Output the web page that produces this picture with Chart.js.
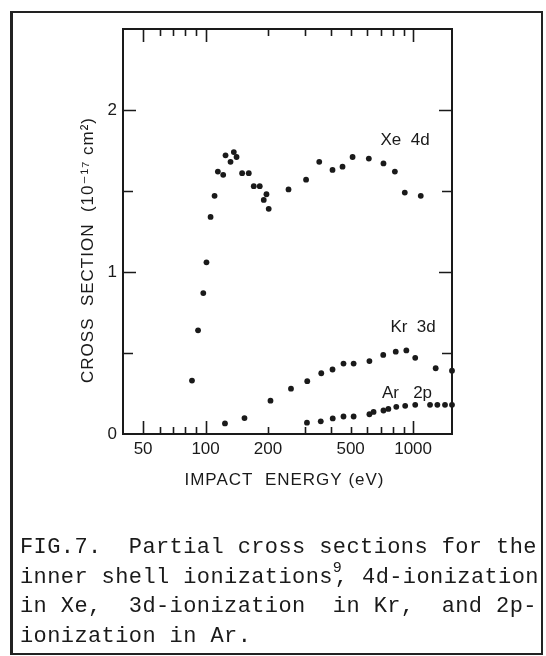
<!DOCTYPE html>
<html>
<head>
<meta charset="utf-8">
<script src="https://cdn.jsdelivr.net/npm/chart.js@4.4.0/dist/chart.umd.min.js"></script>
<style>
  html, body { margin: 0; padding: 0; background: #fff; }
  #wrap { position: relative; width: 546px; height: 656px; overflow: hidden; }
  #frame { position: absolute; left: 10px; top: 11px; width: 528px; height: 640px;
           border: 2px solid #222; border-left-width: 3px; }
  #chart { position: absolute; left: 0; top: 0; }
  #caption { position: absolute; left: 20px; top: 533px; color: #1a1a1a;
             font: 22px "Liberation Mono", "DejaVu Sans Mono", monospace;
             line-height: 29.5px; letter-spacing: 0.4px; white-space: pre; }
  .sup { display: inline-block; width: 2px; font-size: 15px; line-height: 0;
         position: relative; top: -11px; }
</style>
</head>
<body>
<div id="wrap">
  <div id="frame"></div>
  <canvas id="chart" width="546" height="656"></canvas>
  <div id="caption">FIG.7.  Partial cross sections for the
inner shell ionizations<span class="sup">9</span>, 4d-ionization
in Xe,  3d-ionization  in Kr,  and 2p-
ionization in Ar.</div>
</div>
<script>
// impact energy (eV) and cross section (10^-17 cm^2)
const xeEnergy = [86, 92, 97.5, 101, 105.7, 110.5, 114.6, 121.6, 124.8, 131.9, 136.8, 141,
                  150, 161.5, 170.7, 182.4, 190.7, 196.5, 201.5, 251, 305, 353, 409, 457,
                  511, 612, 720, 817, 912, 1089];
const xeCross = [0.33, 0.64, 0.87, 1.06, 1.34, 1.47, 1.62, 1.60, 1.72, 1.68, 1.74, 1.71,
                 1.61, 1.61, 1.53, 1.53, 1.445, 1.48, 1.39, 1.51, 1.57, 1.68, 1.63, 1.65,
                 1.71, 1.70, 1.67, 1.62, 1.49, 1.47];

const krEnergy = [124, 154, 205.5, 258, 309, 361, 409, 462, 517, 616, 718, 825, 928, 1024, 1285, 1540];
const krCross = [0.065, 0.098, 0.206, 0.28, 0.326, 0.375, 0.398, 0.435, 0.435, 0.45, 0.488,
                 0.508, 0.516, 0.47, 0.406, 0.391];

const arEnergy = [308, 359, 410, 462, 517, 616, 645, 720, 760, 830, 916, 1024, 1207, 1309, 1425, 1540];
const arCross = [0.07, 0.078, 0.096, 0.108, 0.108, 0.122, 0.136, 0.145, 0.155, 0.168, 0.174,
                 0.18, 0.18, 0.18, 0.18, 0.18];

const seriesNames = ['Xe  4d', 'Kr  3d', 'Ar   2p'];

const xTickLabels = [50, 100, 200, 500, 1000];
const xMajorTicks = [50, 100, 1000];
const xMinorTicks = [60, 70, 80, 90, 200, 300, 400, 500, 600, 700, 800, 900];
const yTickLabels = [0, 1, 2];
const yMajorTicks = [1, 2];
const yMinorTicks = [0.5, 1.5];

const ink = '#1a1a1a';
const sansFont = '"Liberation Sans", "DejaVu Sans", sans-serif';

function toPoints(xs, ys) {
    return xs.map(function (x, i) { return { x: x, y: ys[i] }; });
}

// frame, inward ticks on all four sides, axis titles and series names
const figureDecor = {
    id: 'figureDecor',
    afterDraw: function (chart, args, opts) {
        const ctx = chart.ctx;
        const a = chart.chartArea;
        const xs = chart.scales.x, ys = chart.scales.y;
        ctx.save();
        ctx.strokeStyle = ink;
        ctx.lineWidth = 2;
        ctx.strokeRect(a.left, a.top, a.right - a.left, a.bottom - a.top);

        function xTick(v, len) {
            const px = Math.round(xs.getPixelForValue(v)) + 0.5;
            ctx.beginPath();
            ctx.moveTo(px, a.bottom); ctx.lineTo(px, a.bottom - len);
            ctx.moveTo(px, a.top); ctx.lineTo(px, a.top + len);
            ctx.stroke();
        }
        function yTick(v, len) {
            const py = Math.round(ys.getPixelForValue(v)) + 0.5;
            ctx.beginPath();
            ctx.moveTo(a.left, py); ctx.lineTo(a.left + len, py);
            ctx.moveTo(a.right, py); ctx.lineTo(a.right - len, py);
            ctx.stroke();
        }
        ctx.lineWidth = 1.6;
        xMajorTicks.forEach(function (v) { xTick(v, 13); });
        xMinorTicks.forEach(function (v) { xTick(v, 7); });
        yMajorTicks.forEach(function (v) { yTick(v, 13); });
        yMinorTicks.forEach(function (v) { yTick(v, 10); });

        ctx.fillStyle = ink;
        ctx.font = '17px ' + sansFont;
        ctx.textAlign = 'center';
        ctx.textBaseline = 'middle';
        ctx.letterSpacing = '1px';

        // axis titles
        ctx.fillText(opts.xTitle, (a.left + a.right) / 2 - 3, a.bottom + 46);
        ctx.save();
        ctx.translate(a.left - 35, a.top + 221);
        ctx.rotate(-Math.PI / 2);
        ctx.fillText(opts.yTitle, 0, 0);
        ctx.restore();

        ctx.letterSpacing = '0px';
        opts.anchors.forEach(function (p, i) {
            ctx.fillText(seriesNames[i], xs.getPixelForValue(p[0]), ys.getPixelForValue(p[1]));
        });
        ctx.restore();
    }
};

function dotSet(xs, ys) {
    return {
        data: toPoints(xs, ys),
        pointRadius: 2.9,
        pointBackgroundColor: ink,
        pointBorderWidth: 0,
        showLine: false,
        clip: false
    };
}

new Chart(document.getElementById('chart'), {
    type: 'scatter',
    data: {
        datasets: [dotSet(xeEnergy, xeCross), dotSet(krEnergy, krCross), dotSet(arEnergy, arCross)]
    },
    options: {
        responsive: false,
        animation: false,
        layout: { padding: { left: 0, top: 29, right: 94, bottom: 162 } },
        plugins: {
            legend: { display: false },
            tooltip: { enabled: false },
            figureDecor: {
                xTitle: 'IMPACT  ENERGY (eV)',
                yTitle: 'CROSS  SECTION  (10\u207B\u00B9\u2077 cm\u00B2)',
                anchors: [[915, 1.81], [1000, 0.66], [935, 0.254]]
            }
        },
        scales: {
            x: {
                type: 'logarithmic',
                min: 40,
                max: 1540,
                grid: { display: false, drawTicks: false },
                border: { display: false },
                afterBuildTicks: function (scale) {
                    scale.ticks = xTickLabels.map(function (v) { return { value: v }; });
                },
                afterFit: function (scale) { scale.height = 60; },
                ticks: {
                    autoSkip: false,
                    maxRotation: 0,
                    padding: 5,
                    color: ink,
                    font: { family: sansFont, size: 17 },
                    callback: function (v) { return String(v); }
                }
            },
            y: {
                min: 0,
                max: 2.5,
                grid: { display: false, drawTicks: false },
                border: { display: false },
                afterBuildTicks: function (scale) {
                    scale.ticks = yTickLabels.map(function (v) { return { value: v }; });
                },
                afterFit: function (scale) { scale.width = 123; },
                ticks: {
                    padding: 6,
                    color: ink,
                    font: { family: sansFont, size: 17 },
                    callback: function (v) { return String(v); }
                }
            }
        }
    },
    plugins: [figureDecor]
});
</script>
</body>
</html>
